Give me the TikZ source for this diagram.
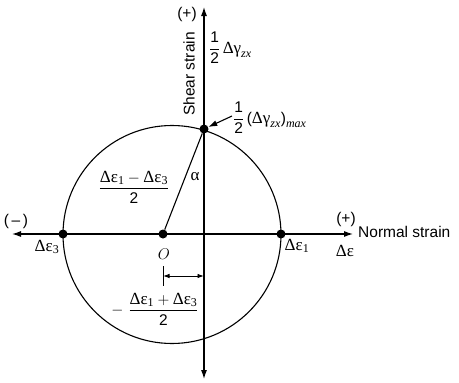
\documentclass[tikz,border=0pt]{standalone}
\usepackage{fix-cm}
\usepackage{fontspec}
\usepackage{amsmath}
\setmainfont{Liberation Sans}
\newfontfamily\grf{Liberation Serif}
\usetikzlibrary{arrows.meta}
\newcommand{\grsz}{\fontsize{17}{20}\selectfont\grf}
\newcommand{\subsz}{\fontsize{12}{14}\selectfont\grf}
\newcommand{\dEps}{\mbox{\grsz Δε}}
\newcommand{\dGam}{\mbox{\grsz Δγ}}
\newcommand{\grA}{\mbox{\grsz α}}
\newcommand{\isub}[1]{_{\mbox{\subsz\itshape #1}}}
\newcommand{\nsub}[1]{_{\mbox{\subsz #1}}}
\newcommand{\half}{\dfrac{\text{1}}{\text{2}}}
\begin{document}
\begin{tikzpicture}[x=1pt,y=-1pt,
  every node/.style={font=\fontsize{15.5}{18}\selectfont, inner sep=0pt},
  dot/.style={circle,fill=black,minimum size=9pt,inner sep=0pt},
  axis/.style={line width=1.1pt,{Latex[length=9pt,width=6pt]}-{Latex[length=9pt,width=6pt]}},
  thin line/.style={line width=1.1pt},
  dim/.style={line width=0.9pt,{Latex[length=6.5pt,width=4.5pt]}-{Latex[length=6.5pt,width=4.5pt]}},
  ptr/.style={line width=1.1pt,-{Latex[length=9pt,width=6pt]}}]
\useasboundingbox (0,0) rectangle (459,383);
% axes
\coordinate (xl) at (12,234);
\coordinate (xr) at (353,234);
\coordinate (yt) at (204,7);
\coordinate (yb) at (204,379);
\draw[axis] (xl) -- (xr);
\draw[axis] (yb) -- (yt);
% circle
\draw[thin line] (172,234.5) circle[radius=109pt];
% points
\node[dot] (E3) at (63,234) {};
\node[dot] (E1) at (281,234) {};
\node[dot] (T) at (204,129) {};
\node[dot] (O) at (163,234) {};
\draw[thin line] (O) -- (T);
% labels
\node (pT) at (187,14) {(+)};
\node[rotate=90] (shear) at (189,74) {Shear strain};
\node[anchor=west] (halfg) at (209,48) {$\half\,\dGam\isub{zx}$};
\node[anchor=west] (halfmax) at (233,118) {$\half\,\text{(}\dGam\isub{zx}\text{)}\isub{max}$};
\coordinate (ps) at (232,116);
\draw[ptr] (ps) -- (T);
\node (alpha) at (195,177) {$\grA$};
\node (frac1) at (134,187) {$\dfrac{\dEps\nsub{1}-\dEps\nsub{3}}{\text{2}}$};
\node (mL) at (16,221) {(\,--\,)};
\node (lE3) at (47,247) {$\dEps\nsub{3}$};
\node (lO) at (164,254) {$O$};
\node (lE1) at (297,246) {$\dEps\nsub{1}$};
\node (pR) at (346,219) {(+)};
\node (lde) at (345,251) {$\dEps$};
\node[anchor=west] (normal) at (358,232) {Normal strain};
% dimension
\coordinate (dt) at (163,266);
\coordinate (db) at (163,286);
\draw[line width=0.9pt] (dt) -- (db);
\coordinate (d1) at (163,276);
\coordinate (d2) at (204,276);
\draw[dim] (d1) -- (d2);
\node (frac2) at (155,309) {$-\hspace{5pt}\dfrac{\dEps\nsub{1}+\dEps\nsub{3}}{\text{2}}$};
\end{tikzpicture}
\end{document}
